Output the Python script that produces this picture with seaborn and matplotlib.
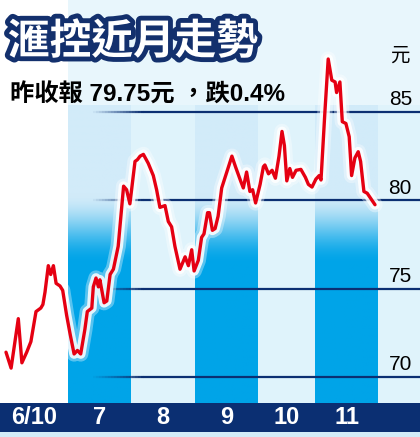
import numpy as np
import matplotlib
matplotlib.use('Agg')
import matplotlib.pyplot as plt
import matplotlib.patheffects as pe
from matplotlib.colors import to_rgba
from matplotlib.collections import LineCollection
import seaborn as sns

sns.set_theme(style='white')
plt.rcParams['font.family'] = ['Liberation Sans', 'Noto Sans CJK TC', 'DejaVu Sans']

title = '滙控近月走勢'
subtitle = '昨收報 79.75元 ，跌0.4%'
unit = '元'

# trading-day index counted from 10 June, and price (HK$)
days = [0, 1.7, 4.1, 5.3, 6.9, 8.3, 10, 11.6, 12.3, 13, 14.1, 14.9, 15.8, 16.7,
        18, 18.9, 20.2, 21.4, 22.7, 23.8, 24.9, 26.3, 27.1, 28.6, 29.1, 30,
        30.8, 31.3, 32.7, 33.6, 34.7, 35.8, 37.4, 38.3, 39.2, 40.2, 41.3, 43,
        43.8, 44.7, 45.8, 47.4, 49.1, 50.2, 51.3, 53, 54.1, 55.2, 56.3, 58,
        59.7, 60.8, 61.9, 62.7, 64.1, 65.2, 66, 67.2, 67.8, 68.8, 69.7, 70.7,
        71.9, 73.6, 75.3, 76.5, 78.2, 79.1, 80.2, 81.3, 82.2, 83.2, 84.7, 85.8,
        86.3, 87.5, 88.7, 89.8, 91, 92, 92.8, 93.6, 94.6, 95.5, 96.7, 98.3,
        99.8, 100.8, 102, 103.3, 104.4, 105, 106.3, 107.4, 108.6, 109.7, 110.2,
        111.3, 112.1, 113.3, 114.4, 115.2, 116.3, 117.4, 118.2, 119.3, 120.4,
        122.4, 123]
prices = [71.4, 70.5, 73.3, 70.8, 71.4, 72.0, 73.7, 73.9, 74.1, 74.8, 76.3, 75.8,
          76.3, 75.3, 75.15, 74.9, 73.5, 72.4, 71.3, 71.5, 71.3, 72.7, 73.7, 73.9,
          75.1, 75.6, 75.1, 75.5, 74.2, 74.3, 75.8, 76.1, 77.4, 79.1, 80.8, 80.6,
          79.8, 82.2, 82.3, 82.5, 82.6, 82.1, 81.4, 80.6, 79.6, 79.7, 78.8, 78.5,
          77.4, 76.1, 76.8, 76.3, 77.2, 76.0, 76.6, 77.9, 78.1, 79.3, 79.3, 78.3,
          78.4, 79.1, 80.7, 81.6, 82.5, 81.9, 81.1, 80.7, 81.6, 80.5, 80.6, 79.85,
          80.9, 81.9, 82.0, 81.5, 81.7, 81.25, 82.5, 83.9, 83.1, 81.1, 81.8, 81.3,
          81.7, 81.75, 81.3, 80.9, 80.75, 81.2, 81.4, 81.15, 85.0, 88.0, 86.8,
          86.7, 86.1, 86.7, 84.45, 84.35, 83.6, 81.4, 82.4, 82.75, 82.2, 80.5,
          80.4, 79.9, 79.75]

month_labels = ['6/10', '7', '8', '9', '10', '11']
month_edges = [-2, 20.7, 41.7, 63, 84, 103, 124]
grid_levels = [70, 75, 80, 85]

x_min, x_max = -2, 138
y_min, y_max = 66.6, 91.34
bar_top, bar_bottom = 68.53, 66.89
stripe_top = 85.4

navy = '#0b2f72'
bright = to_rgba('#00a4e8')
pale = to_rgba('#d2ebf9')
light = '#dff3fb'

fig = plt.figure(figsize=(4.2, 4.37), dpi=100)
ax = fig.add_axes([0, 0, 1, 1])
ax.set_xlim(x_min, x_max)
ax.set_ylim(y_min, y_max)
ax.axis('off')
fig.patch.set_facecolor('white')

# pale background above the stripes
ax.fill_between([month_edges[1], x_max], stripe_top, y_max, color='#e8f6fc', zorder=0, lw=0)

# month stripes
ys = np.linspace(bar_top, stripe_top, 300)
t = np.clip((80.4 - ys) / (80.4 - 76.4), 0, 1)
t = t * t * (3 - 2 * t)
grad = np.array([[np.array(pale) * (1 - v) + np.array(bright) * v] for v in t])
edges = month_edges[1:] + [x_max]
for i in range(len(edges) - 1):
    x0, x1 = edges[i], edges[i + 1]
    if i % 2 == 0:
        ax.imshow(grad, extent=[x0, x1, bar_top, stripe_top], origin='lower',
                  aspect='auto', zorder=1, interpolation='bilinear')
    else:
        ax.fill_between([x0, x1], bar_top, stripe_top, color=light, zorder=1, lw=0)
ax.set_xlim(x_min, x_max)
ax.set_ylim(y_min, y_max)

# bottom band
ax.axhspan(bar_bottom, bar_top, color=navy, zorder=2, lw=0)
ax.axhspan(y_min, bar_bottom, color='#d3edf9', zorder=2, lw=0)

# grid lines fading in from the left
for lvl in grid_levels:
    xs = np.linspace(29, 46, 18)
    segs = [[(xs[k], lvl), (xs[k + 1], lvl)] for k in range(len(xs) - 1)]
    cols = [to_rgba(navy, a) for a in np.linspace(0.05, 1, len(segs))]
    ax.add_collection(LineCollection(segs, colors=cols, linewidths=1.6, zorder=3))
    ax.plot([46, x_max], [lvl, lvl], color=navy, lw=1.6, zorder=3)
    ax.text(135.3, lvl + 0.68, str(lvl), ha='right', va='center',
            fontsize=15, color='black', zorder=6)

# price line with white glow
sns.lineplot(x=days, y=prices, ax=ax, color='#e50012', lw=2.4, sort=False,
             estimator=None, zorder=5)
ax.lines[-1].set_path_effects([
    pe.Stroke(linewidth=11, foreground='white', alpha=0.35),
    pe.Stroke(linewidth=7, foreground='white', alpha=0.85),
    pe.Normal()])
ax.axis('off')

# month labels in the bottom band
for i, lab in enumerate(month_labels):
    xc = (max(month_edges[i], x_min) + month_edges[i + 1]) / 2
    ax.text(xc, (bar_top + bar_bottom) / 2, lab, ha='center', va='center',
            color='white', fontsize=17, fontweight='bold', zorder=6)

# title, subtitle and unit
fig.text(8 / 420, 1 - 42 / 437, title, ha='left', va='center', fontsize=30,
         fontweight='bold', color='white', family=['Noto Sans CJK TC'],
         path_effects=[pe.withStroke(linewidth=7, foreground='#13306d')])
fig.text(10 / 420, 1 - 95 / 437, subtitle, ha='left', va='center', fontsize=17.5,
         fontweight='bold', color='black')
fig.text(400 / 420, 1 - 55 / 437, unit, ha='center', va='center', fontsize=14,
         color='black', family=['Noto Sans CJK TC'])

fig.savefig('out.png', dpi=100)
